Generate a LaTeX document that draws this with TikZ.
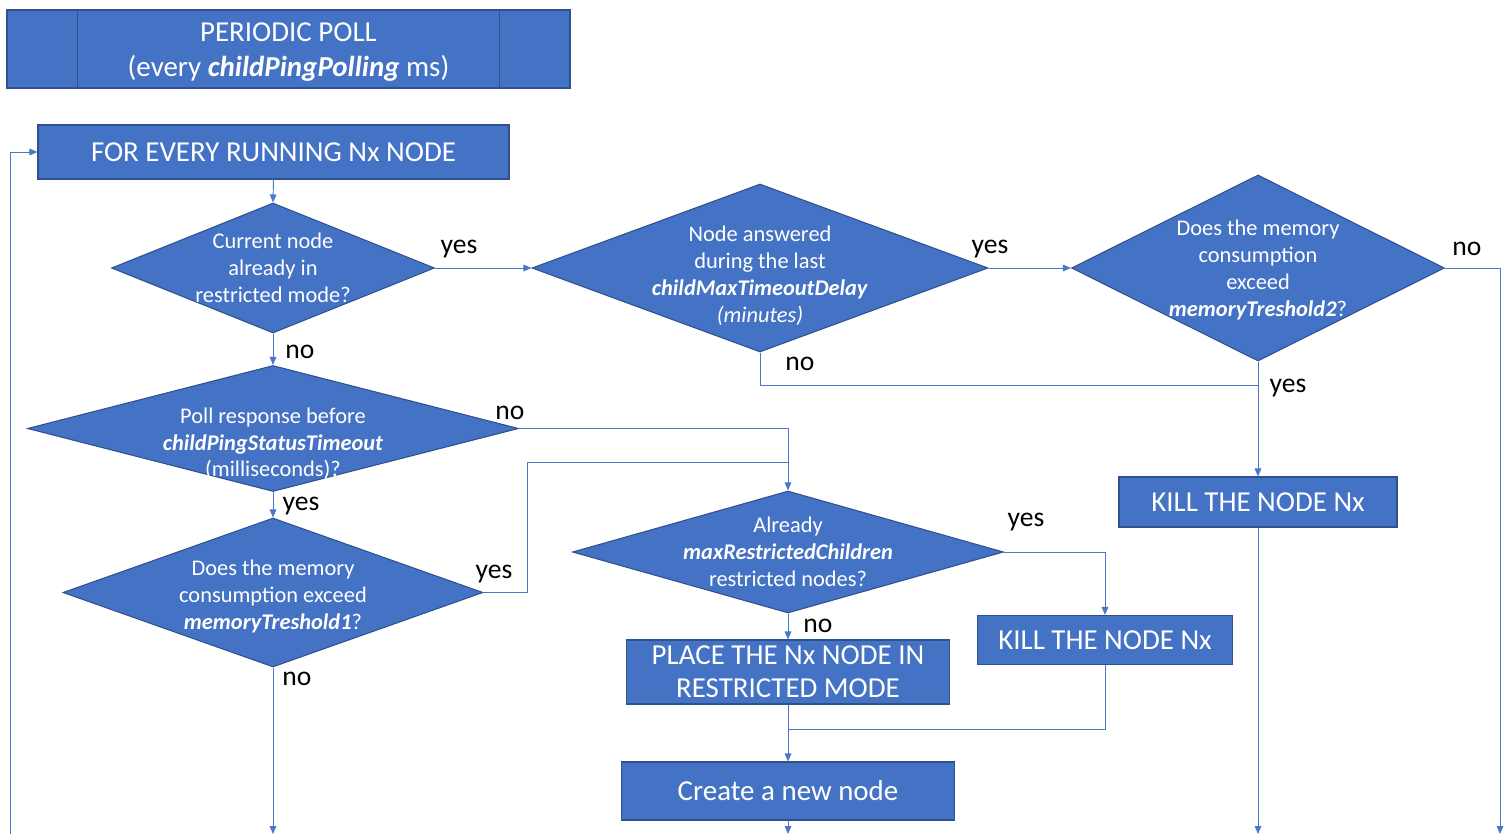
\documentclass[tikz,border=0pt]{standalone}
\usepackage{fontspec}
\setmainfont{Carlito}
\usepackage{xcolor}
\usepackage{tikz}
\usetikzlibrary{arrows.meta,shapes.geometric,calc}
\definecolor{boxblue}{HTML}{4472C4}
\definecolor{edgeblue}{HTML}{2F528F}
\definecolor{lineblue}{HTML}{4A78C8}
\newcommand{\param}[1]{\textbf{\textit{#1}}}
\tikzset{
  procbox/.style={draw=edgeblue, fill=boxblue, line width=0.8pt, text=white,
    font=\fontsize{21.7}{26}\selectfont, inner sep=0pt, align=center},
  boxtext/.style={text=white, font=\fontsize{21.7}{26}\selectfont, align=center},
  decision/.style={diamond, draw=edgeblue, fill=boxblue, line width=0.8pt, inner sep=0pt},
  qtext/.style={text=white, font=\fontsize{16.8}{20.2}\selectfont, align=center},
  flow/.style={lineblue, line width=0.7pt, -{Triangle[length=6pt,width=5pt]}},
  link/.style={lineblue, line width=0.7pt},
  answer/.style={font=\fontsize{20.7}{24}\selectfont, inner sep=0pt, yshift=-2.5pt},
}

\begin{document}
\begin{tikzpicture}[x=0.75pt, y=-0.75pt]
\useasboundingbox (0,0) rectangle (1512,834);
% TOP: periodic poll (predefined process)
\node[procbox, minimum width=422.25pt, minimum height=58.5pt,
  label={[boxtext, yshift=-2.5pt]center:PERIODIC POLL\\(every \param{childPingPolling} ms)}] (poll) at (288.5,49) {};
\draw[edgeblue, line width=0.8pt] ($(poll.north west)+(71,0)$) -- ($(poll.south west)+(71,0)$);
\draw[edgeblue, line width=0.8pt] ($(poll.north east)+(-71,0)$) -- ($(poll.south east)+(-71,0)$);
% PROCESS BOXES
\node[procbox, minimum width=353.25pt, minimum height=40.5pt] (forall) at (273.5,152) {FOR EVERY RUNNING Nx NODE};
\node[procbox, minimum width=208.5pt, minimum height=37.5pt] (killR) at (1258,502) {KILL THE NODE Nx};
\node[procbox, minimum width=191.25pt, minimum height=36.75pt] (killM) at (1105,640) {KILL THE NODE Nx};
\node[procbox, minimum width=242.25pt, minimum height=48pt, font=\fontsize{21.7}{24.75}\selectfont] (place) at (788,672)
  {PLACE THE Nx NODE IN\\RESTRICTED MODE};
\node[procbox, minimum width=249.75pt, minimum height=43.5pt] (create) at (788,791) {Create a new node};
% DECISIONS
\node[decision, minimum width=242.25pt, minimum height=97.5pt,
  label={[qtext]center:Current node\\already in\\restricted mode?}] (d1) at (273,268) {};
\node[decision, minimum width=342pt, minimum height=126pt,
  label={[qtext, yshift=-6pt]center:Node answered\\during the last\\\param{childMaxTimeoutDelay}\\\textit{(minutes)}}] (d2) at (760,268) {};
\node[decision, minimum width=279.75pt, minimum height=139.5pt,
  label={[qtext, yshift=-1.5pt]center:Does the memory\\consumption\\exceed\\\param{memoryTreshold2}?}] (d3) at (1258,268) {};
\node[decision, minimum width=368.25pt, minimum height=94.5pt,
  label={[qtext, yshift=-11.5pt]center:Poll response before\\\param{childPingStatusTimeout}\\(milliseconds)?}] (d4) at (273,428.5) {};
\node[decision, minimum width=315pt, minimum height=111.75pt,
  label={[qtext, yshift=-3pt]center:Does the memory\\consumption exceed\\\param{memoryTreshold1}?}] (d5) at (273,592.5) {};
\node[decision, minimum width=323.25pt, minimum height=91.5pt,
  label={[qtext]center:Already\\\param{maxRestrictedChildren}\\restricted nodes?}] (d6) at (788,552) {};
% FREE ENDS
\coordinate (loopin) at (10,834);
\coordinate (outL) at (273,834);
\coordinate (outM) at (788,834);
\coordinate (outK) at (1258,834);
\coordinate (outR) at (1500,834);
\coordinate (joinA) at (1258,385);
\coordinate (joinB) at (788,462);
\coordinate (joinC) at (788,729);
% CONNECTORS
\draw[flow] (loopin) |- (forall.west);
\draw[flow] (forall.south) -- (d1.north);
\draw[flow] (d1.east) -- (d2.west);
\draw[flow] (d2.east) -- (d3.west);
\draw[flow] (d3.east) -| (outR);
\draw[flow] (d3.south) -- (killR.north);
\draw[link] (d2.south) |- (joinA);
\draw[flow] (d1.south) -- (d4.north);
\draw[flow] (d4.east) -| (d6.north);
\draw[link] (d5.east) -- ++(44,0) |- (joinB);
\draw[flow] (d4.south) -- (d5.north);
\draw[flow] (d5.south) -- (outL);
\draw[flow] (d6.east) -| (killM.north);
\draw[flow] (d6.south) -- (place.north);
\draw[flow] (place.south) -- (create.north);
\draw[link] (killM.south) |- (joinC);
\draw[flow] (create.south) -- (outM);
\draw[flow] (killR.south) -- (outK);
% ANSWERS
\node[answer] (a1) at (459,246) {yes};
\node[answer] (a2) at (990,246) {yes};
\node[answer] (a3) at (1467,246) {no};
\node[answer] (a4) at (300,349) {no};
\node[answer] (a5) at (800,361) {no};
\node[answer] (a6) at (1288,385) {yes};
\node[answer] (a7) at (510,410) {no};
\node[answer] (a8) at (301,503) {yes};
\node[answer] (a9) at (494,571) {yes};
\node[answer] (a10) at (297,676) {no};
\node[answer] (a11) at (1026,519) {yes};
\node[answer] (a12) at (818,623) {no};
\end{tikzpicture}
\end{document}
